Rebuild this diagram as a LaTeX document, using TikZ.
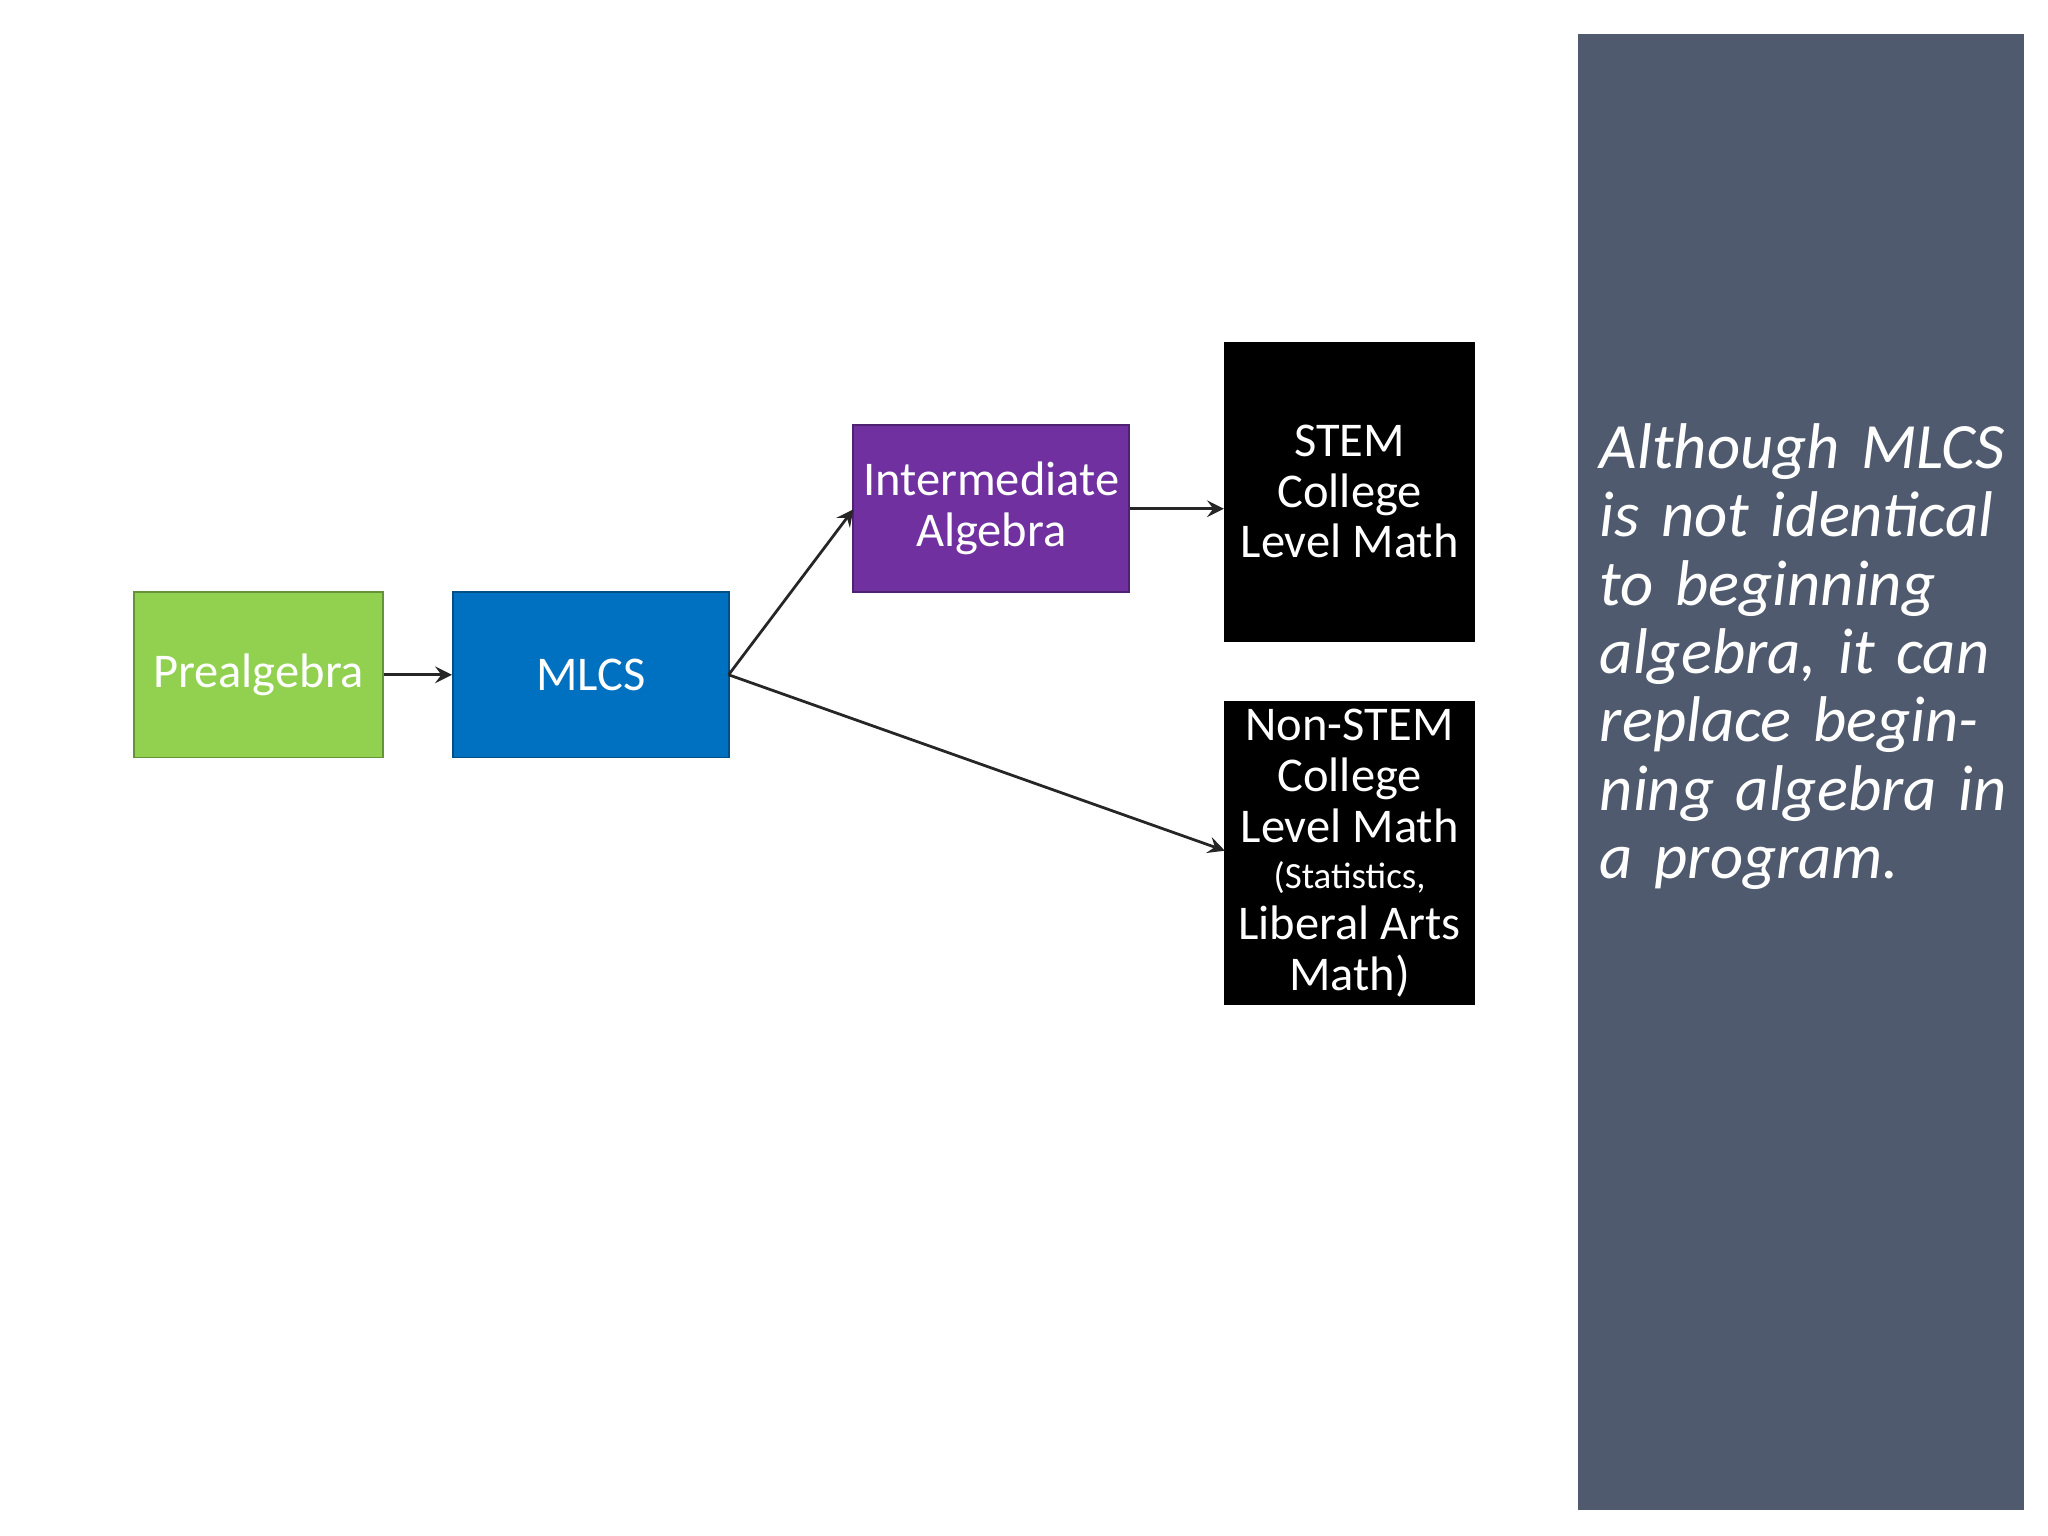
\documentclass[tikz,border=0pt]{standalone}
\usepackage{fontspec}
\setmainfont{Carlito}
\begin{document}
\begin{tikzpicture}[x=0.01cm,y=-0.01cm,
  box/.style={draw=#1!70!black,fill=#1,text=white,align=center,inner sep=0pt},
  arr/.style={->,>=stealth,line width=0.6pt,black!85}]
\useasboundingbox (0,0) rectangle (1560,1170);
\definecolor{pgreen}{HTML}{92D050}
\definecolor{pblue}{HTML}{0070C0}
\definecolor{ppurple}{HTML}{7030A0}
\definecolor{panel}{HTML}{4F5A6E}
\fill[panel] (1202,26) rectangle (1542,1150);
\node[box=pgreen,minimum width=1.9cm,minimum height=1.26cm,font=\fontsize{10.5}{12}\selectfont] (pre) at (197,514) {Prealgebra};
\node[box=pblue,minimum width=2.1cm,minimum height=1.26cm,font=\fontsize{10.5}{12}\selectfont] (mlcs) at (450,514) {MLCS};
\node[box=ppurple,minimum width=2.1cm,minimum height=1.27cm,font=\fontsize{10.5}{11}\selectfont] (int) at (755,387.5) {Intermediate\\Algebra};
\node[box=black,minimum width=1.9cm,minimum height=2.27cm,font=\fontsize{10.5}{11}\selectfont] (stem) at (1028,374.5) {STEM\\College\\Level Math};
\node[box=black,minimum width=1.9cm,minimum height=2.3cm,font=\fontsize{10.5}{11}\selectfont,anchor=north] (non) at (1028,534) {Non-STEM\\College\\Level Math\\[-1pt]\fontsize{8}{8.6}\selectfont (Statistics,\\Liberal Arts\\Math)};
\coordinate (mo) at (555,514);
\coordinate (ii) at (650,388);
\coordinate (ni) at (933,648);
\draw[arr] (pre.east) -- (mlcs.west);
\draw[arr] (mo) -- (ii);
\draw[arr] (mo) -- (ni);
\draw[arr] (int.east) -- (stem.west |- int.east);
\node[anchor=north west,text=white,align=left,inner sep=0pt,text width=3.3cm,
  font=\itshape\fontsize{14}{14.8}\selectfont] (txt) at (1218,322)
  {Although MLCS is not identical to beginning algebra, it can replace beginning algebra in a program.};
\end{tikzpicture}
\end{document}
